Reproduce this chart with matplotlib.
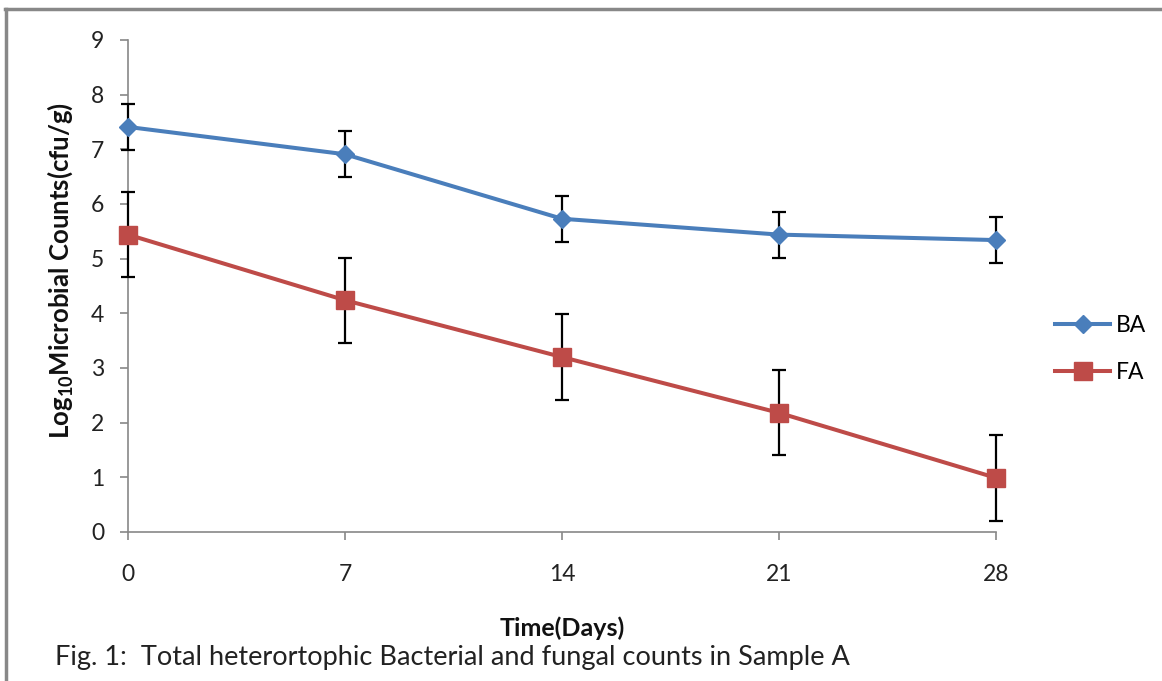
import matplotlib
matplotlib.use("Agg")
import matplotlib.pyplot as plt
from matplotlib.lines import Line2D

plt.rcParams['font.family'] = ['Lato', 'DejaVu Sans']
plt.rcParams['mathtext.fontset'] = 'custom'
plt.rcParams['mathtext.rm'] = 'Lato'
plt.rcParams['mathtext.bf'] = 'Lato:bold'

days = [0, 7, 14, 21, 28]
day_labels = ['0', '7', '14', '21', '28']
ba_values = [7.41, 6.91, 5.73, 5.44, 5.34]
ba_errors = [0.42, 0.42, 0.42, 0.42, 0.42]
fa_values = [5.44, 4.24, 3.20, 2.18, 0.99]
fa_errors = [0.78, 0.78, 0.78, 0.78, 0.78]
y_ticks = [0, 1, 2, 3, 4, 5, 6, 7, 8, 9]

BLUE = '#4a7ebb'
RED = '#be4b48'
AXC = '#888888'

fig = plt.figure(figsize=(11.62, 6.81), dpi=100)
ax = fig.add_axes([128/1162, 149/681, 868/1162, 492/681])

artists = []
for vals, errs in [(ba_values, ba_errors), (fa_values, fa_errors)]:
    eb = ax.errorbar(days, vals, yerr=errs, fmt='none', ecolor='black',
                     elinewidth=1.6, capsize=5, capthick=1.6, zorder=2)
    for a in eb.lines[1]:
        artists.append(a)
    for a in eb.lines[2]:
        artists.append(a)
artists += ax.plot(days, ba_values, color=BLUE, lw=2.9, marker='D', ms=9.5,
                   mfc=BLUE, mec=BLUE, label='BA', zorder=3)
artists += ax.plot(days, fa_values, color=RED, lw=2.9, marker='s', ms=13.5,
                   mfc=RED, mec=RED, label='FA', zorder=3)
for a in artists:
    a.set_clip_on(False)

ax.set_xlim(0, 28)
ax.set_ylim(0, 9)
ax.set_xticks(days)
ax.set_xticklabels(day_labels)
ax.set_yticks(y_ticks)
for s in ['top', 'right']:
    ax.spines[s].set_visible(False)
for s in ['left', 'bottom']:
    ax.spines[s].set_color(AXC)
    ax.spines[s].set_linewidth(1.2)
    ax.spines[s].set_zorder(1)
ax.tick_params(axis='both', colors=AXC, length=6, width=1.2, labelsize=16.5,
               labelcolor='#222222')
ax.tick_params(axis='x', pad=17)
ax.tick_params(axis='y', pad=11)

fig.text(60/1162, 1 - 271/681, 'Log$_{\\mathbf{10}}$Microbial Counts(cfu/g)',
         rotation=90, ha='center', va='center', fontsize=18.5,
         fontweight='bold', color='#111111')
fig.text(562/1162, 1 - 628/681, 'Time(Days)', ha='center', va='center',
         fontsize=18, fontweight='bold', color='#111111')
fig.text(55/1162, 1 - 658/681,
         'Fig. 1:  Total heterortophic Bacterial and fungal counts in Sample A',
         ha='left', va='center', fontsize=19.5, color='#222222')

fig.legend(handles=artists[-2:], loc='center left',
           bbox_to_anchor=(1055/1162, 1 - 349/681),
           frameon=False, fontsize=16.5, handlelength=2.4, labelspacing=1.1,
           handletextpad=0.25, borderpad=0, borderaxespad=0)

fig.add_artist(Line2D([5/1162, 1], [1 - 9/681, 1 - 9/681], color='#888888',
                      lw=2.5, transform=fig.transFigure))
fig.add_artist(Line2D([6/1162, 6/1162], [0, 1 - 9/681], color='#888888',
                      lw=2.5, transform=fig.transFigure))

fig.savefig('out.png', dpi=100)
